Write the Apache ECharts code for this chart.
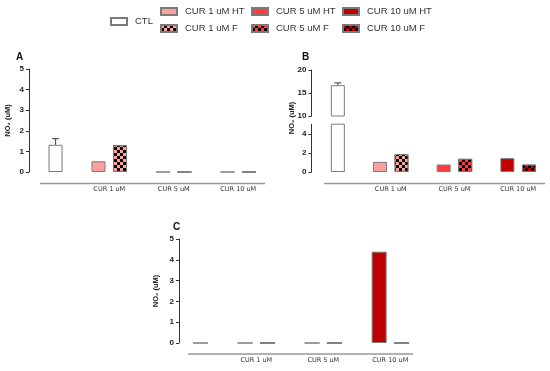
<!DOCTYPE html>
<html><head><meta charset="utf-8">
<script src="https://cdn.jsdelivr.net/npm/echarts@6/dist/echarts.min.js"></script>
<style>html,body{margin:0;padding:0;background:#fff}#c{width:550px;height:371px}</style>
</head><body><div id="c"></div>
<script>
// ---- data ----
const categories = ['CTL', 'CUR 1 uM', 'CUR 5 uM', 'CUR 10 uM'];
const htNames = ['CUR 1 uM HT', 'CUR 5 uM HT', 'CUR 10 uM HT'];
const fNames = ['CUR 1 uM F', 'CUR 5 uM F', 'CUR 10 uM F'];
// Panel A
const aCTL = 1.32, aCTLtop = 1.62;
const aHT = [0.52, 0, 0];
const aF = [1.30, 0, 0];
// Panel B
const bCTL = 16.7, bCTLtop = 17.2;
const bHT = [1.06, 0.78, 1.45];
const bF = [1.88, 1.38, 0.78];
// Panel C
const cCTL = 0;
const cHT = [0, 0, 4.39];
const cF = [0, 0, 0];
// tick labels
const ticksA = [0, 1, 2, 3, 4, 5];
const ticksBlow = [0, 2, 4];
const ticksBup = [10, 15, 20];
const ticksC = [0, 1, 2, 3, 4, 5];

// ---- styles ----
const htColors = ['#FFA0A0', '#FF3C3C', '#C00000'];
const border = '#7a7a7a';
const decal = {symbol: 'rect', symbolSize: 1, color: '#000', dashArrayX: [[2.4, 2.4], [0, 2.4, 2.4, 0]], dashArrayY: [2.4, 0]};
const axisFont = {fontFamily: 'Liberation Sans', fontWeight: 'bold', fontSize: 8, color: '#222'};
const catFont = {fontFamily: 'DejaVu Sans', fontSize: 6.5, color: '#333'};

const grids = [], xAxes = [], yAxes = [], series = [];

function put(idx, v) { const a = ['-', '-', '-', '-']; a[idx] = v; return a; }

function addPanel(g, opt) {
  grids.push(opt.grid);
  const gi = grids.length - 1;
  xAxes.push({type: 'category', gridIndex: gi, data: categories,
    axisLine: {show: false}, axisTick: {show: false},
    axisLabel: {show: opt.showCat, margin: opt.catMargin, formatter: v => v === 'CTL' ? '' : v, ...catFont}});
  yAxes.push(Object.assign({type: 'value', gridIndex: gi, min: opt.min, max: opt.max, interval: opt.interval,
    offset: opt.yOffset, splitLine: {show: false},
    axisLine: {show: true, lineStyle: {color: '#333', width: 1}},
    axisTick: {show: true, length: 3, lineStyle: {color: '#333'}, customValues: opt.ticks},
    axisLabel: Object.assign({margin: 5, customValues: opt.ticks}, axisFont)}, opt.yExtra || {}));
  const base = {type: 'bar', xAxisIndex: gi, yAxisIndex: gi, barWidth: opt.bw, barGap: opt.gap, clip: true};
  opt.ht.forEach((v, i) => series.push(Object.assign({}, base, {name: htNames[i], stack: 'H' + g, data: put(i + 1, v),
    itemStyle: {color: htColors[i], borderColor: border, borderWidth: 1}})));
  series.push(Object.assign({}, base, {name: 'CTL', stack: 'F' + g, data: put(0, opt.ctl),
    itemStyle: {color: '#fff', borderColor: border, borderWidth: 1}}));
  opt.f.forEach((v, i) => series.push(Object.assign({}, base, {name: fNames[i], stack: 'F' + g, data: put(i + 1, v),
    itemStyle: {color: htColors[i], borderColor: border, borderWidth: 1, decal: decal}})));
  if (opt.err) {
    const off = opt.bw * (1 + parseFloat(opt.gap) / 100) / 2;
    series.push({type: 'custom', xAxisIndex: gi, yAxisIndex: gi, z: 5, clip: false,
      data: [[categories.indexOf('CTL'), opt.err[0], opt.err[1]]],
      renderItem: function (params, api) {
        const p0 = api.coord([api.value(0), api.value(1)]);
        const p1 = api.coord([api.value(0), api.value(2)]);
        const x = p0[0] + off;
        const st = {stroke: '#555', lineWidth: 1.2};
        return {type: 'group', children: [
          {type: 'line', shape: {x1: x, y1: p0[1], x2: x, y2: p1[1]}, style: st},
          {type: 'line', shape: {x1: x - 3.5, y1: p1[1], x2: x + 3.5, y2: p1[1]}, style: st}
        ]};
      }});
  }
}

const nameStyle = {fontFamily: 'Liberation Sans, DejaVu Sans', fontWeight: 'bold', fontSize: 7.5, color: '#222'};

// Panel A
addPanel('A', {grid: {left: 12.5, width: 258, top: 69, height: 103}, min: 0, max: 5, interval: 1, ticks: ticksA,
  yOffset: -16.5, showCat: true, catMargin: 14, bw: 14, gap: '54%', ht: aHT, f: aF, ctl: aCTL, err: [aCTL, aCTLtop],
  yExtra: {name: 'NO₂ (uM)', nameLocation: 'middle', nameGap: 17, nameRotate: 90, nameTextStyle: nameStyle}});
// Panel B upper (broken axis, 10-20)
addPanel('Bu', {grid: {left: 295.2, width: 257, top: 70, height: 46}, min: 10, max: 20, interval: 5, ticks: ticksBup,
  yOffset: -16.3, showCat: false, catMargin: 14, bw: 14, gap: '54%', ht: bHT, f: bF, ctl: bCTL, err: [bCTL, bCTLtop]});
// Panel B lower (0-5)
addPanel('Bl', {grid: {left: 295.2, width: 257, top: 124.2, height: 47.8}, min: 0, max: 5, interval: 1, ticks: ticksBlow,
  yOffset: -16.3, showCat: true, catMargin: 14, bw: 14, gap: '54%', ht: bHT, f: bF, ctl: bCTL});
// Panel C
addPanel('C', {grid: {left: 155.8, width: 268, top: 239, height: 104}, min: 0, max: 5, interval: 1, ticks: ticksC,
  yOffset: -23.2, showCat: true, catMargin: 14, bw: 15, gap: '49%', ht: cHT, f: cF, ctl: cCTL,
  yExtra: {name: 'NO₂ (uM)', nameLocation: 'middle', nameGap: 19, nameRotate: 90, nameTextStyle: nameStyle}});

const legendText = {fontFamily: 'Liberation Sans', fontSize: 9.5, color: '#333', lineHeight: 11, padding: [0, 0, 0, 3]};
function legend(data, left, top) {
  return {data: data, left: left, top: top, orient: 'vertical', padding: 0, itemGap: 6, itemWidth: 16, itemHeight: 7,
    icon: 'rect', textStyle: legendText, selectedMode: false};
}

const lineStyle = {stroke: '#999', lineWidth: 1.6};
const titleStyle = {fontSize: 10, fontWeight: 'bold', color: '#111', fontFamily: 'Liberation Sans'};
const option = {
  animation: false,
  title: [
    {text: 'A', left: 11, top: 47, textStyle: titleStyle},
    {text: 'B', left: 297, top: 47, textStyle: titleStyle},
    {text: 'C', left: 168, top: 217, textStyle: titleStyle}
  ],
  legend: [
    legend(['CTL'], 110, 16),
    legend([htNames[0], fNames[0]], 160, 6),
    legend([htNames[1], fNames[1]], 251, 6),
    legend([htNames[2], fNames[2]], 342, 6)
  ],
  grid: grids, xAxis: xAxes, yAxis: yAxes, series: series,
  graphic: [
    {type: 'line', shape: {x1: 40, y1: 183.5, x2: 265, y2: 183.5}, style: lineStyle},
    {type: 'line', shape: {x1: 324, y1: 183.5, x2: 545, y2: 183.5}, style: lineStyle},
    {type: 'line', shape: {x1: 188, y1: 354, x2: 413, y2: 354}, style: lineStyle},
    {type: 'text', x: 292, y: 118, rotation: Math.PI / 2,
      style: {text: 'NO₂ (uM)', align: 'center', verticalAlign: 'middle', fill: '#222',
        font: 'bold 7.5px "Liberation Sans", "DejaVu Sans"'}}
  ]
};
const chart = echarts.init(document.getElementById('c'), null, {renderer: 'canvas'});
chart.setOption(option);
</script></body></html>
